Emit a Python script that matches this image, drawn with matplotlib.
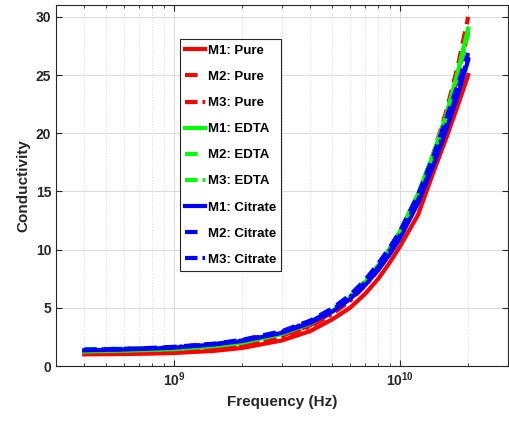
import numpy as np
import matplotlib
matplotlib.use("Agg")
from matplotlib import pyplot as plt
from matplotlib.ticker import FixedLocator, FuncFormatter, NullFormatter

plt.rcParams['font.family'] = ['Liberation Sans', 'DejaVu Sans']
plt.rcParams['font.weight'] = 'bold'
plt.rcParams['mathtext.fontset'] = 'custom'
plt.rcParams['mathtext.bf'] = 'Liberation Sans:bold'
plt.rcParams['mathtext.rm'] = 'Liberation Sans:bold'

# frequency points (Hz)
freq = [4e8, 6e8, 8e8, 1e9, 1.5e9, 2e9, 3e9, 4e9, 5e9, 6e9, 7e9, 8e9, 9e9,
        1e10, 1.2e10, 1.4e10, 1.6e10, 1.8e10, 2e10]

# conductivity
m1_pure = [1.00, 1.03, 1.07, 1.12, 1.30, 1.55, 2.20, 3.00, 4.00, 5.00, 6.20, 7.50, 8.90,
           10.3, 13.0, 16.6, 19.6, 22.4, 25.0]
m2_pure = [1.05, 1.10, 1.17, 1.25, 1.50, 1.80, 2.60, 3.50, 4.60, 5.80, 7.10, 8.50, 10.0,
           11.5, 14.7, 18.2, 21.9, 25.8, 30.0]
m3_pure = [1.05, 1.09, 1.15, 1.22, 1.46, 1.75, 2.52, 3.40, 4.45, 5.60, 6.90, 8.25, 9.70,
           11.2, 14.3, 17.7, 21.2, 24.9, 28.7]
m1_edta = [1.25, 1.32, 1.38, 1.45, 1.70, 2.00, 2.75, 3.65, 4.70, 5.90, 7.20, 8.60, 10.1,
           11.6, 14.8, 18.2, 21.6, 25.3, 29.0]
m2_edta = [1.28, 1.35, 1.42, 1.50, 1.75, 2.05, 2.80, 3.70, 4.75, 5.90, 7.20, 8.55, 10.0,
           11.5, 14.6, 17.9, 21.3, 25.0, 28.6]
m3_edta = [1.45, 1.50, 1.55, 1.60, 1.85, 2.15, 2.90, 3.80, 4.85, 6.00, 7.30, 8.65, 10.1,
           11.6, 14.7, 18.1, 21.5, 25.2, 29.0]
m1_citrate = [1.35, 1.42, 1.50, 1.58, 1.85, 2.15, 2.85, 3.70, 4.65, 5.75, 6.95, 8.25, 9.60,
              11.0, 14.0, 17.2, 20.3, 23.3, 26.3]
m2_citrate = [1.40, 1.48, 1.56, 1.65, 1.92, 2.25, 3.00, 3.90, 4.95, 6.10, 7.40, 8.80, 10.2,
              11.6, 14.7, 18.0, 21.3, 24.2, 26.9]
m3_citrate = [1.38, 1.45, 1.53, 1.62, 1.88, 2.20, 2.92, 3.80, 4.80, 5.92, 7.15, 8.50, 9.90,
              11.3, 14.3, 17.5, 20.7, 23.7, 26.6]

dash = (0, (3.0, 1.8))
dashdot = (0, (3.0, 1.2, 0.8, 1.2))

series = [
    (m1_pure, 'r', '-', 'M1: Pure'),
    (m2_pure, 'r', dash, 'M2: Pure'),
    (m3_pure, 'r', dashdot, 'M3: Pure'),
    (m1_edta, '#00ff00', '-', 'M1: EDTA'),
    (m2_edta, '#00ff00', dash, 'M2: EDTA'),
    (m3_edta, '#00ff00', dashdot, 'M3: EDTA'),
    (m1_citrate, 'b', '-', 'M1: Citrate'),
    (m2_citrate, 'b', dash, 'M2: Citrate'),
    (m3_citrate, 'b', dashdot, 'M3: Citrate'),
]

fig = plt.figure(figsize=(5.09, 4.21), dpi=100)
ax = fig.add_axes([0.110, 0.1306, 0.888, 0.857])

for vals, col, ls, lab in series:
    ax.plot(freq, vals, color=col, linestyle=ls, linewidth=3, label=lab)

ax.set_xscale('log')
ax.set_xlim(3e8, 3e10)
ax.set_ylim(0, 31)
ax.set_yticks([0, 5, 10, 15, 20, 25, 30])
ax.xaxis.set_major_locator(FixedLocator([1e9, 1e10]))
ax.xaxis.set_major_formatter(FuncFormatter(
    lambda v, p: r'$\mathbf{10^{%d}}$' % int(round(np.log10(v)))))
minors = [k * 1e8 for k in range(3, 10)] + [k * 1e9 for k in range(2, 10)] + [2e10, 3e10]
ax.xaxis.set_minor_locator(FixedLocator(minors))
ax.xaxis.set_minor_formatter(NullFormatter())

ax.tick_params(which='both', direction='in', top=True, right=True, colors='#262626',
               labelsize=10)
ax.tick_params(which='major', length=4)
ax.tick_params(which='minor', length=2)
ax.grid(True, which='major', color='#dcdcdc', linewidth=0.8)
ax.grid(True, which='minor', axis='x', color='#dcdcdc', linestyle=':', linewidth=0.8)
for s in ax.spines.values():
    s.set_color('#262626')

ax.set_xlabel('Frequency (Hz)', fontsize=11, fontweight='bold', color='#262626')
ax.set_ylabel('Conductivity', fontsize=11, fontweight='bold', color='#262626')

leg = ax.legend(loc='upper left', bbox_to_anchor=(0.274, 0.905), fontsize=9.5,
                handlelength=1.5, handletextpad=0.2, labelspacing=1.05,
                fancybox=False, edgecolor='#262626', framealpha=1,
                borderpad=0.4, borderaxespad=0)
leg.get_frame().set_linewidth(0.8)

fig.savefig('out.png', dpi=100)
